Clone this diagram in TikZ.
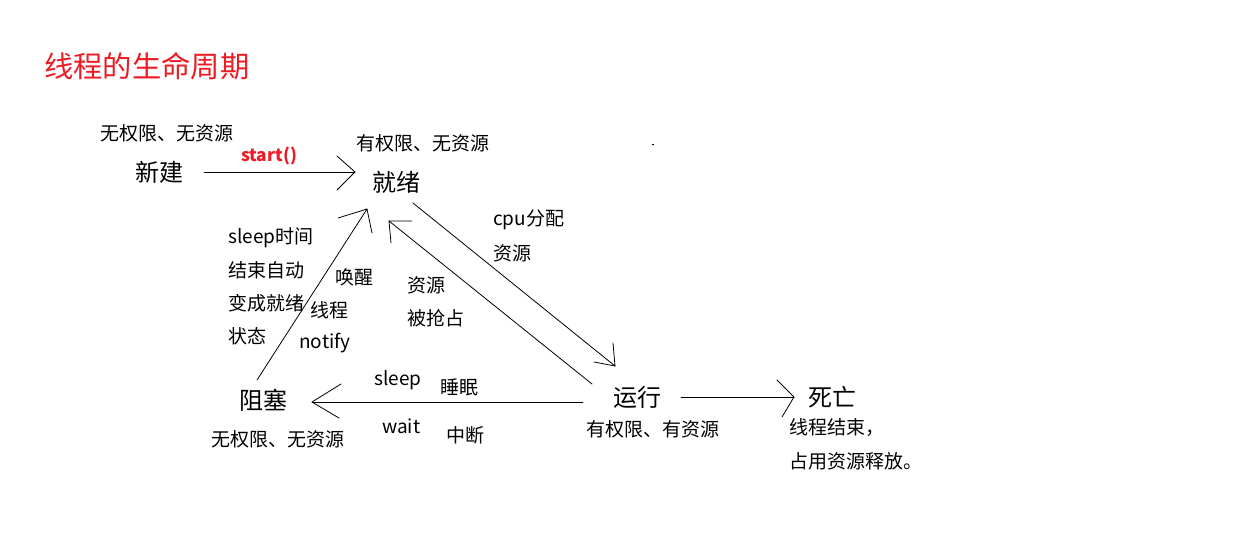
\documentclass[tikz,border=0pt]{standalone}
\usepackage{fontspec}
\setmainfont{Noto Sans CJK SC}
\definecolor{titlered}{RGB}{237,28,36}
\tikzset{
  state/.style={inner sep=0pt, font=\fontsize{18}{20}\selectfont},
  lbl/.style={inner sep=0pt, anchor=west, font=\fontsize{14.25}{16}\selectfont},
  conn/.style={line width=0.6pt, line cap=round}
}
\begin{document}
\begin{tikzpicture}[x=0.75pt,y=-0.75pt]
\useasboundingbox[fill=white] (0,0) rectangle (1255,540);
% title
\node[inner sep=0pt, anchor=west, text=titlered, font=\fontsize{22}{24}\selectfont] (title) at (44,66) {线程的生命周期};
% states
\node[state] (new) at (159,172) {新建};
\node[state] (ready) at (396,182) {就绪};
\node[state] (run) at (637,397) {运行};
\node[state] (blocked) at (263,400) {阻塞};
\node[state] (dead) at (832,397) {死亡};
% state notes
\node[lbl] (newnote) at (100,133) {无权限、无资源};
\node[lbl] (readynote) at (356,143) {有权限、无资源};
\node[lbl] (blockednote) at (211,439) {无权限、无资源};
\node[lbl] (runnote) at (586,429) {有权限、有资源};
\node[lbl] (deadnote1) at (789,428) {线程结束，};
\node[lbl] (deadnote2) at (789,461) {占用资源释放。};
% edge labels
\node[inner sep=0pt, text=titlered, font=\fontsize{13}{15}\selectfont\bfseries] (start) at (269,156) {start()};
\node[lbl] (cpu1) at (493,220) {cpu分配};
\node[lbl] (cpu2) at (493,253) {资源};
\node[lbl] (pre1) at (407,285) {资源};
\node[lbl] (pre2) at (407,318) {被抢占};
\node[lbl] (sl1) at (228,238) {sleep时间};
\node[lbl] (sl2) at (228,270) {结束自动};
\node[lbl] (sl3) at (228,303) {变成就绪};
\node[lbl] (sl4) at (228,336) {状态};
\node[lbl] (wk1) at (335,277) {唤醒};
\node[lbl] (wk2) at (310,310) {线程};
\node[lbl] (wk3) at (299,343) {notify};
\node[lbl] (bs1) at (374,380) {sleep};
\node[lbl] (bs2) at (440,387) {睡眠};
\node[lbl] (bw1) at (382,426) {wait};
\node[lbl] (bw2) at (446,435) {中断};
% connector end points
\coordinate (a1s) at (204,172); \coordinate (a1t) at (355,172);
\coordinate (a2s) at (413,203); \coordinate (a2t) at (615,366);
\coordinate (a3s) at (592,384); \coordinate (a3t) at (389,221);
\coordinate (a4s) at (257,380); \coordinate (a4t) at (367,209);
\coordinate (a5s) at (583,402); \coordinate (a5t) at (312,402);
\coordinate (a6s) at (681,397); \coordinate (a6t) at (794,397);
% new -> ready
\draw[conn] (a1s) -- (a1t);
\draw[conn] (a1t) -- ++(-18,-16) (a1t) -- ++(-18,18);
% ready -> run
\draw[conn] (a2s) -- (a2t);
\draw[conn] (a2t) -- ++(-2,-23) (a2t) -- ++(-21,-4);
% run -> ready
\draw[conn] (a3s) -- (a3t);
\draw[conn] (a3t) -- ++(23,0) (a3t) -- ++(2,22);
% blocked -> ready
\draw[conn] (a4s) -- (a4t);
\draw[conn] (a4t) -- ++(-29,9) (a4t) -- ++(5,24);
% run -> blocked
\draw[conn] (a5s) -- (a5t);
\draw[conn] (a5t) -- ++(29,-18) (a5t) -- ++(27,16);
% run -> dead
\draw[conn] (a6s) -- (a6t);
\draw[conn] (a6t) -- ++(-17,-17) (a6t) -- ++(-12,20);
% stray dot
\fill[black] (652,143.5) rectangle (654,144.5);
\end{tikzpicture}
\end{document}
